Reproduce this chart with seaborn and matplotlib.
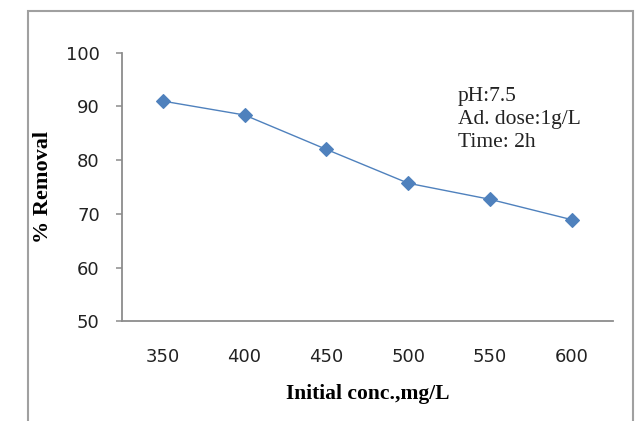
import matplotlib
matplotlib.use("Agg")
import matplotlib.pyplot as plt
import seaborn as sns
import pandas as pd
from matplotlib.patches import Rectangle

# ---- data ----
conc = ["350", "400", "450", "500", "550", "600"]
removal = [91.0, 88.4, 82.0, 75.7, 72.7, 68.9]
y_ticks = [50, 60, 70, 80, 90, 100]
note_lines = ["pH:7.5", "Ad. dose:1g/L", "Time: 2h"]
x_label = "Initial conc.,mg/L"
y_label = "% Removal"

sns.set_theme(style="white")
plt.rcParams['font.family'] = ['DejaVu Sans']

W, H = 644, 421
fig = plt.figure(figsize=(W / 100, H / 100), dpi=100)
fig.patch.set_facecolor("white")

left, right, top, bottom = 121.7, 613.0, 52.7, 321.3
ax = fig.add_axes([left / W, 1 - bottom / H, (right - left) / W, (bottom - top) / H])

df = pd.DataFrame({"conc": conc, "removal": removal})
sns.pointplot(data=df, x="conc", y="removal", color="#4F81BD", markers="D",
              linestyles="-", errorbar=None, ax=ax,
              linewidth=1.0, markersize=7.5, markeredgewidth=0.8)

ax.set_xlim(-0.5, len(conc) - 0.5)
ax.set_ylim(50, 100)
ax.set_yticks(y_ticks)
ax.set_yticklabels([str(v) for v in y_ticks])

for s in ["top", "right"]:
    ax.spines[s].set_visible(False)
for s in ["left", "bottom"]:
    ax.spines[s].set_color("#8c8c8c")
    ax.spines[s].set_linewidth(1.3)

ax.tick_params(axis="y", which="major", direction="out", length=4.3, width=1.1,
               color="#8c8c8c", pad=11.5, labelsize=13, labelcolor="#222222", left=True)
ax.tick_params(axis="x", which="major", length=0, pad=19,
               labelsize=13, labelcolor="#222222", bottom=False)

ax.set_xlabel(x_label, fontfamily="Liberation Serif", fontweight="bold", fontsize=15.5,
              color="black")
ax.xaxis.set_label_coords(0.5, (bottom - 394) / (bottom - top))
ax.xaxis.label.set_va("center")

ax.set_ylabel(y_label, fontfamily="Liberation Serif", fontweight="bold", fontsize=16,
              color="black")
ax.yaxis.set_label_coords((43 - left) / (right - left), 0.5)
ax.yaxis.label.set_va("center")

ax.text((458 - left) / (right - left), (bottom - 87) / (bottom - top),
        "\n".join(note_lines), transform=ax.transAxes, ha="left", va="top",
        fontfamily="Liberation Serif", fontsize=15.5, linespacing=1.3, color="#222222")

# outer chart-area border (bottom edge lies below the picture)
fig.add_artist(Rectangle((28 / W, -0.05), (633 - 28) / W, 1 - 11 / H + 0.05,
                         transform=fig.transFigure, fill=False,
                         edgecolor="#a0a0a0", linewidth=1.5, clip_on=False))

fig.savefig("out.png", dpi=100)
